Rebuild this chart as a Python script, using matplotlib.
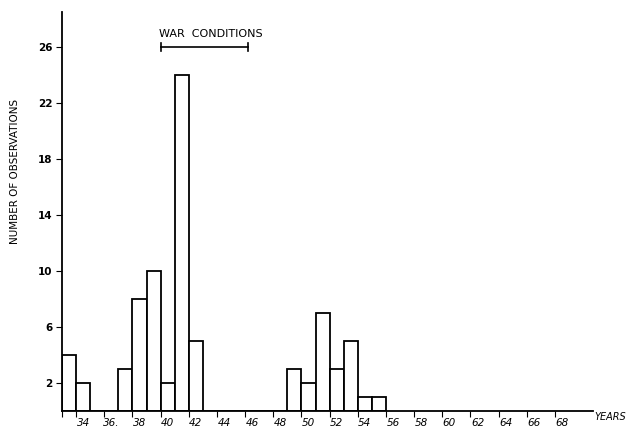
import matplotlib
matplotlib.use('Agg')
import matplotlib.pyplot as plt

years = list(range(33, 56))
counts = [4, 2, 0, 0, 3, 8, 10, 2, 24, 5, 0, 0, 0, 0, 0, 0, 3, 2, 7, 3, 5, 1, 1]
xlabels = ['34', '36.', '38', '40', '42', '44', '46', '48', '50',
           '52', '54', '56', '58', '60', '62', '64', '66', '68']
xlabel_years = list(range(34, 69, 2))
yticks = [2, 6, 10, 14, 18, 22, 26]
war_start, war_end = 39.5, 45.7

fig = plt.figure(figsize=(6.31, 4.30), dpi=100)
ax = fig.add_axes([62/631, 19/430, 531/631, 399/430])

ax.bar(years, counts, width=1.0, facecolor='white', edgecolor='black', linewidth=1.3)
# empty years still drawn as baseline
ax.plot([32.5, 70.2], [0, 0], color='black', lw=1.3, clip_on=False)

ax.set_xlim(32.5, 70.2)
ax.set_ylim(0, 28.5)
for s in ['top', 'right', 'bottom']:
    ax.spines[s].set_visible(False)
ax.spines['left'].set_linewidth(1.3)

ax.set_xticks(xlabel_years)
ax.set_xticklabels(xlabels, fontsize=7.5, style='italic')
ax.tick_params(axis='x', which='major', length=0, pad=5)
ax.set_xticks([32.5] + [y - 0.5 for y in xlabel_years], minor=True)
ax.tick_params(axis='x', which='minor', length=4, width=0.8, direction='out')

ax.set_yticks(yticks)
ax.set_yticklabels([str(v) for v in yticks], fontsize=7.5, fontweight='bold')
ax.tick_params(axis='y', length=4, width=0.8, pad=3)

ax.set_ylabel('NUMBER OF OBSERVATIONS', fontsize=7.5)
ax.yaxis.set_label_coords(-0.08, 0.6)

ax.text(70.3, -0.4, 'YEARS', fontsize=7, style='italic', va='center', ha='left',
        clip_on=False)

# war conditions bracket
ax.plot([war_start, war_end], [26, 26], color='black', lw=1.2)
ax.plot([war_start, war_start], [25.7, 26.3], color='black', lw=1.2)
ax.plot([war_end, war_end], [25.7, 26.3], color='black', lw=1.2)
ax.text(39.4, 26.6, 'WAR  CONDITIONS', fontsize=8, ha='left', va='bottom')

fig.savefig('out.png', dpi=100)
